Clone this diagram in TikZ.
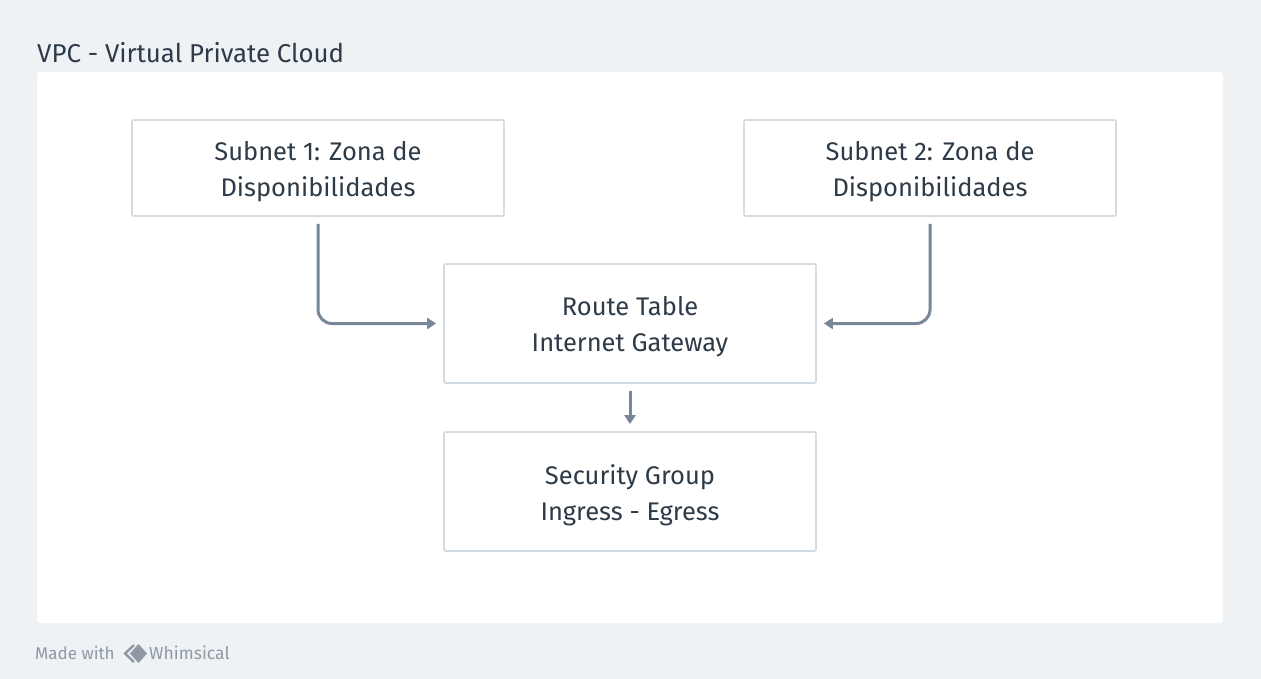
\documentclass[tikz,border=0pt]{standalone}
\usepackage{fontspec}
\setmainfont{Fira Sans}
\usetikzlibrary{arrows.meta}
\definecolor{bgc}{HTML}{EFF2F5}
\definecolor{txt}{HTML}{2D3B48}
\definecolor{brd}{HTML}{D3DBE3}
\definecolor{arr}{HTML}{778797}
\definecolor{foot}{HTML}{8E99A4}
\begin{document}
\begin{tikzpicture}[x=1pt,y=-1pt,
  box/.style={draw=brd,line width=1.8pt,fill=white,rounded corners=2pt,minimum width=372pt,inner sep=0pt},
  lbl/.style={align=center,text=txt,font=\fontsize{25.5}{36}\selectfont,inner sep=0pt,yshift=-3.5pt},
  conn/.style={draw=arr,line width=3pt,rounded corners=14pt,-{Triangle[length=9pt,width=11pt]}}]
\useasboundingbox (0,0) rectangle (1261,679);
\fill[bgc] (0,0) rectangle (1261,679);
\fill[white,rounded corners=3pt] (37,72) rectangle (1223,623);
\node[anchor=base west,text=txt,font=\fontsize{25.8}{30}\selectfont,inner sep=0pt] (title) at (37,63) {VPC - Virtual Private Cloud};
\node[box,minimum height=96pt] (s1) at (318,168) {};
\node[lbl] (s1t) at (s1.center) {Subnet 1: Zona de\\Disponibilidades};
\node[box,minimum height=96pt] (s2) at (930,168) {};
\node[lbl] (s2t) at (s2.center) {Subnet 2: Zona de\\Disponibilidades};
\node[box,minimum height=119pt] (rt) at (630,323.5) {};
\node[lbl] (rtt) at (rt.center) {Route Table\\Internet Gateway};
\node[box,minimum height=119pt] (sg) at (630,491.5) {};
\node[lbl] (sgt) at (sg.center) {Security Group\\Ingress - Egress};
\coordinate (a1) at (318,224);
\coordinate (a2) at (930,224);
\draw[conn] (a1) |- ([xshift=-7pt]rt.west);
\draw[conn] (a2) |- ([xshift=7pt]rt.east);
\draw[conn] ([yshift=-7pt]rt.south) -- ([yshift=7pt]sg.north);
\node[anchor=base west,text=foot,font=\fontsize{17}{20}\selectfont,inner sep=0pt] (made) at (35,659) {Made with};
\draw[foot,line width=2.4pt,line join=miter] (134,645) -- (125,653.5) -- (134,662);
\fill[foot] (138.5,644) -- (147,653.5) -- (138.5,663) -- (130,653.5) -- cycle;
\node[anchor=base west,text=foot,font=\fontsize{17.5}{20}\selectfont,inner sep=0pt] (whim) at (149,659) {Whimsical};
\end{tikzpicture}
\end{document}
